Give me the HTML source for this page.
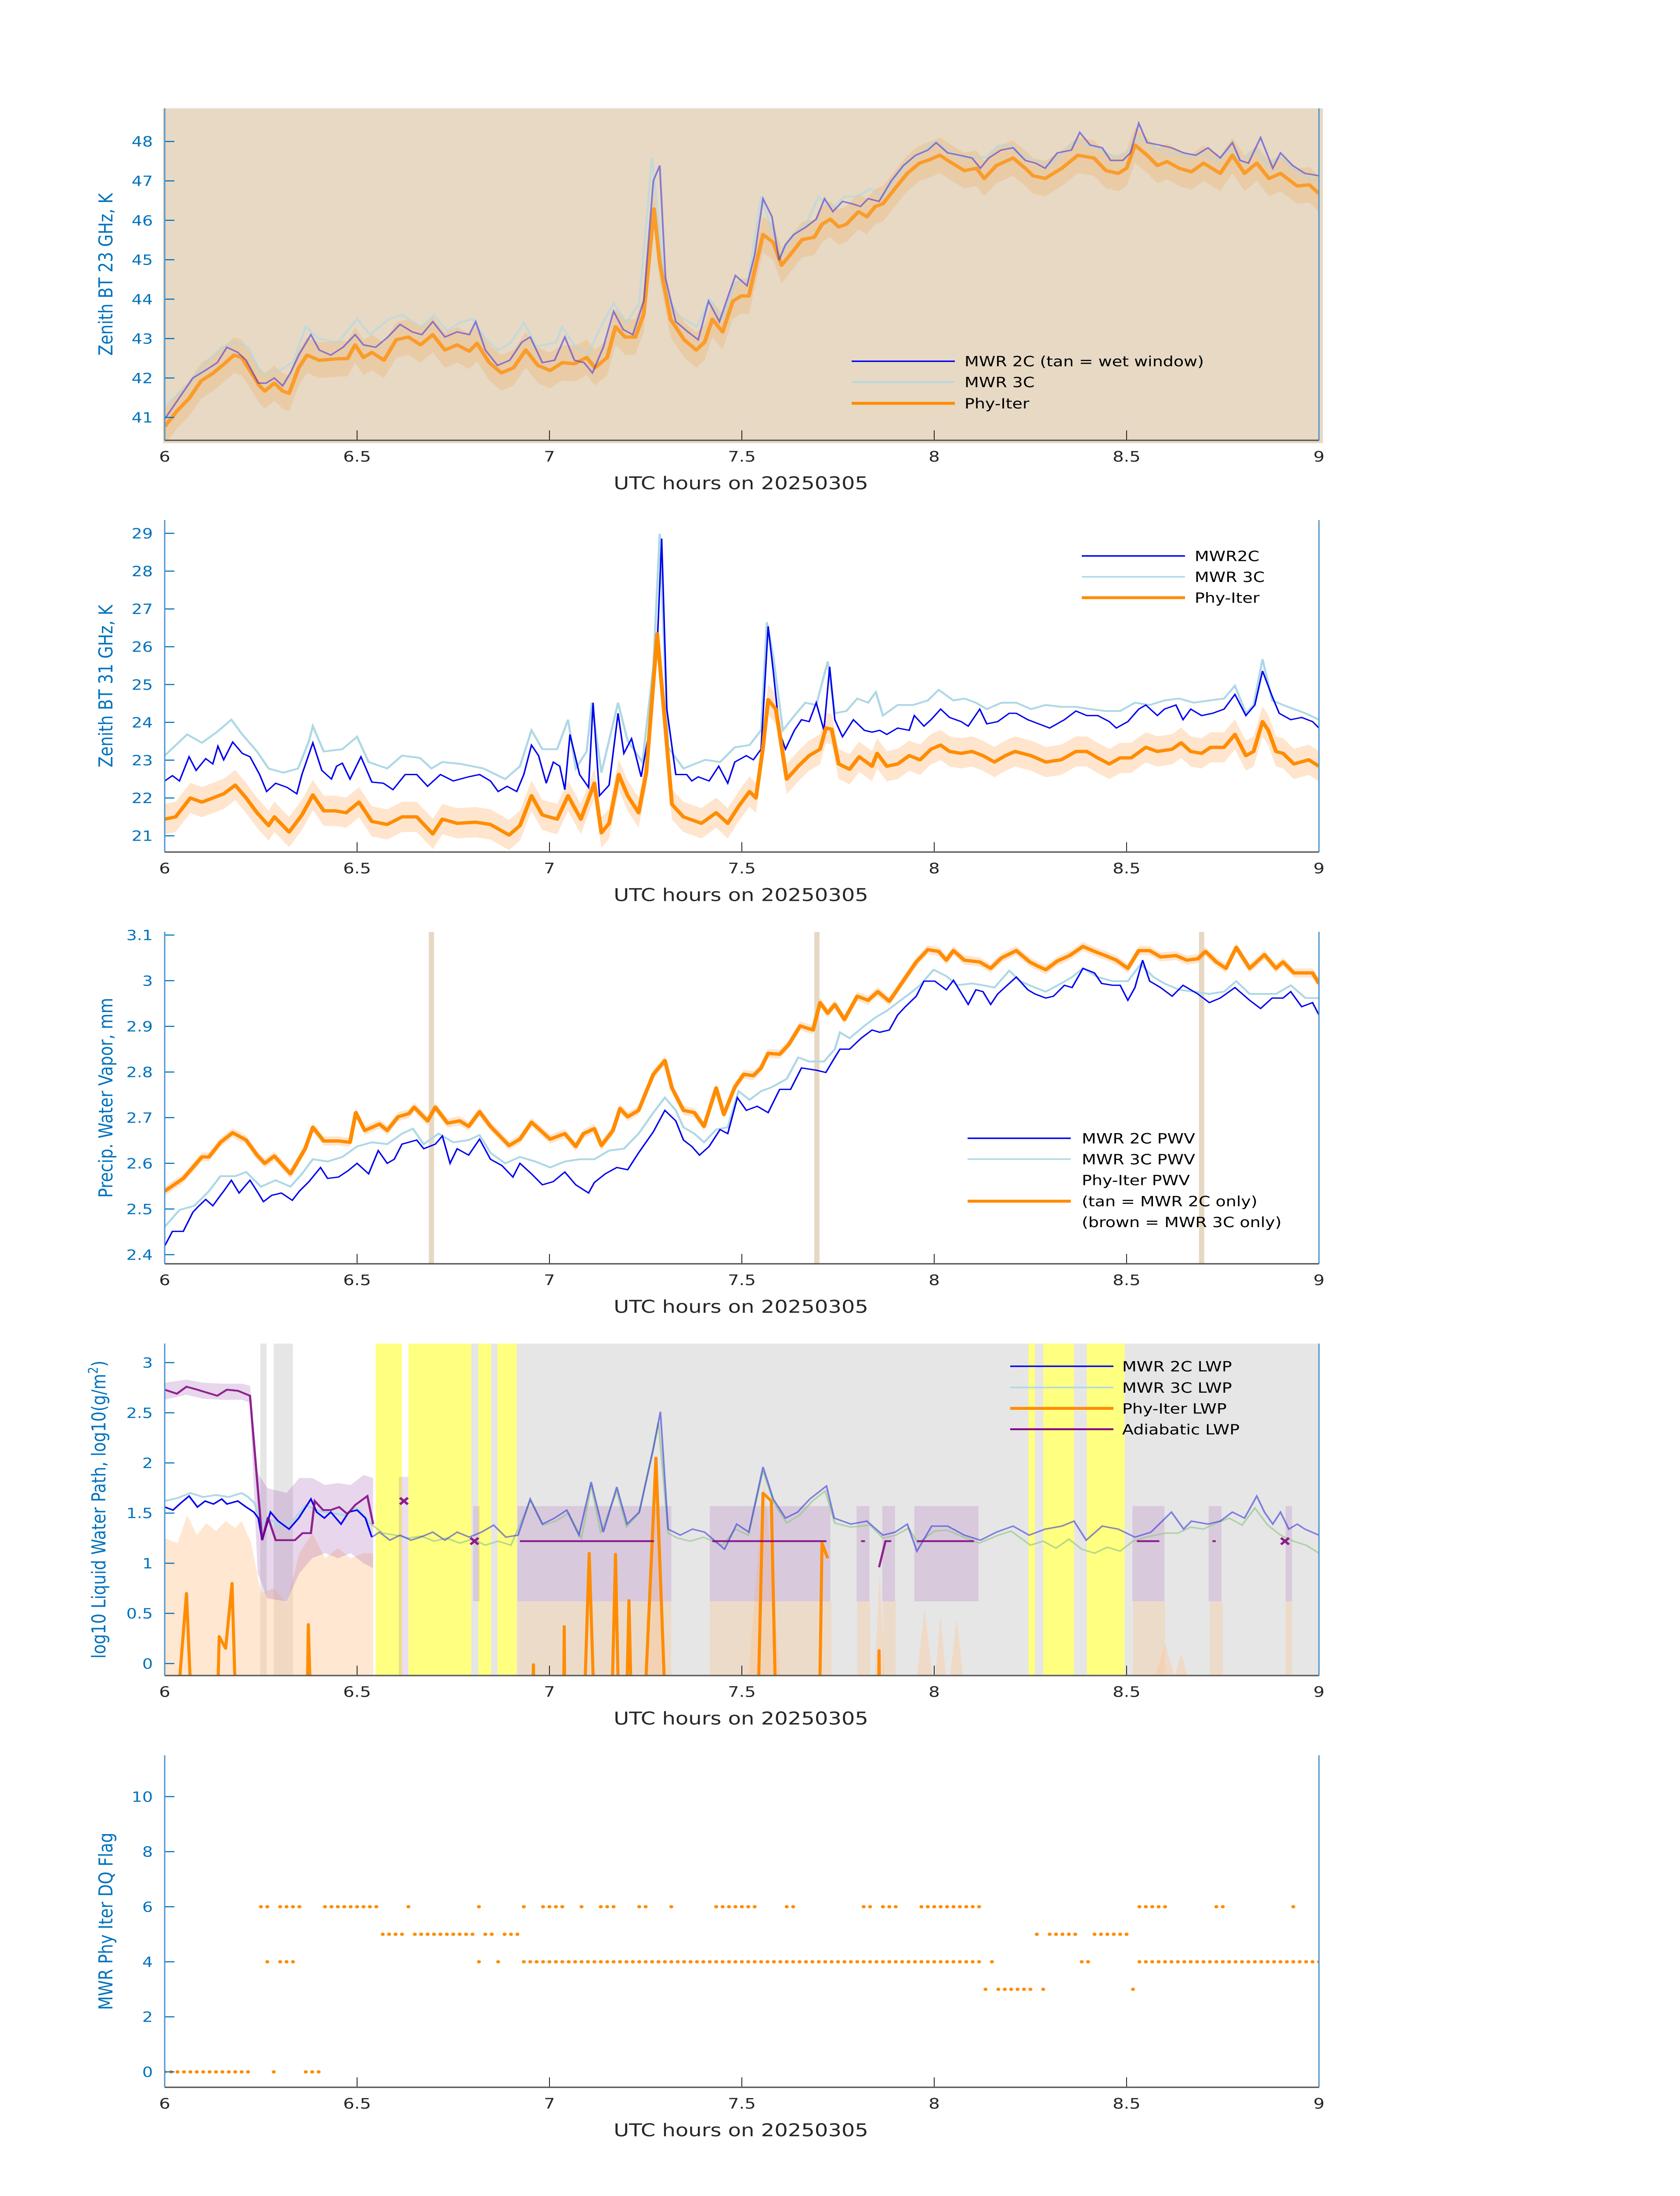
<!DOCTYPE html>
<html><head><meta charset="utf-8"><title>MWR retrievals 20250305</title>
<style>
html,body{margin:0;padding:0;background:#fff;width:100%;height:100%;overflow:hidden;}
svg{display:block;position:absolute;left:0;top:0;width:100vw;height:100vh;font-family:"DejaVu Sans","Liberation Sans",sans-serif;}
</style></head>
<body>
<svg id="chart" xmlns="http://www.w3.org/2000/svg" width="100%" height="100%" viewBox="0 0 3825 6000" preserveAspectRatio="none">
<rect x="0" y="0" width="3825" height="6000" fill="#ffffff"/>
</svg>
<script>
// ---------------- data (time in minutes after 06 UTC, values in axis units) ----------------
const xTickHours = [6, 6.5, 7, 7.5, 8, 8.5, 9];
const xTickLabels = ['6', '6.5', '7', '7.5', '8', '8.5', '9'];
const p1Ticks = [41, 42, 43, 44, 45, 46, 47, 48];
const p2Ticks = [21, 22, 23, 24, 25, 26, 27, 28, 29];
const p3Ticks = [2.4, 2.5, 2.6, 2.7, 2.8, 2.9, 3.0, 3.1];
const p3TickLabels = ['2.4', '2.5', '2.6', '2.7', '2.8', '2.9', '3', '3.1'];
const p4Ticks = [0, 0.5, 1, 1.5, 2, 2.5, 3];
const p4TickLabels = ['0', '0.5', '1', '1.5', '2', '2.5', '3'];
const p5Ticks = [0, 2, 4, 6, 8, 10];

// Panel 1: 23 GHz BT
const p1Phy = [[0,40.77],[1.9,41.16],[3.8,41.48],[5.7,41.93],[7.6,42.13],[9.5,42.39],[10.8,42.58],[12,42.52],[13.3,42.19],[14.8,41.8],[15.6,41.67],[17.1,41.87],[18.4,41.67],[19.4,41.61],[20.9,42.26],[22.2,42.58],[24.1,42.45],[27.2,42.49],[28.5,42.49],[29.7,42.84],[31,42.52],[32.3,42.65],[34.2,42.45],[36.1,42.97],[38,43.04],[39.9,42.84],[41.8,43.1],[43.7,42.71],[45.6,42.84],[47.5,42.68],[48.7,42.88],[50.6,42.39],[52.5,42.13],[54.4,42.26],[56.3,42.71],[58.2,42.32],[60.1,42.19],[62,42.39],[63.9,42.36],[65.8,42.52],[67.1,42.26],[69,42.52],[70.3,43.3],[71.8,43.04],[73.4,43.04],[74.7,43.62],[76.3,46.29],[77.2,44.92],[78.9,43.49],[81,42.97],[82.9,42.71],[84.2,42.91],[85.4,43.49],[87,43.17],[88.6,43.95],[89.9,44.08],[91.1,44.08],[92,44.73],[93.3,45.64],[94.9,45.44],[96.2,44.86],[97.8,45.18],[99.4,45.51],[101.3,45.57],[102.5,45.9],[103.8,46.03],[105.1,45.83],[106.3,45.9],[108.2,46.22],[109.5,46.09],[110.8,46.35],[112,46.42],[113.9,46.81],[115.8,47.19],[117.7,47.45],[119,47.52],[120.9,47.65],[122.1,47.52],[123.4,47.39],[124.7,47.26],[126.6,47.32],[127.8,47.06],[129.7,47.39],[132.3,47.58],[134.2,47.32],[135.4,47.13],[137.3,47.06],[139.9,47.32],[142.4,47.65],[144.9,47.58],[146.8,47.26],[148.7,47.19],[150,47.32],[151.3,47.91],[153.2,47.65],[154.8,47.39],[156.3,47.49],[158.2,47.32],[160.1,47.23],[162,47.45],[164.6,47.19],[166.5,47.65],[168.4,47.19],[170.3,47.45],[172.2,47.06],[174,47.19],[176.6,46.87],[178.5,46.9],[180,46.68]];
const p1Mwr2c = [[0,40.96],[1.9,41.41],[4.4,42],[6.3,42.19],[8.2,42.39],[9.7,42.78],[11.4,42.65],[12.7,42.45],[14.6,41.87],[15.8,41.87],[17.1,42],[18.4,41.8],[19.6,42.13],[20.9,42.58],[22.8,43.1],[24.1,42.71],[25.9,42.58],[27.8,42.78],[29.7,43.1],[31,42.84],[32.9,42.78],[34.8,43.04],[36.7,43.36],[38.6,43.17],[40.1,43.1],[41.8,43.43],[43.7,43.04],[45.6,43.17],[47.5,43.1],[48.5,43.43],[50,42.71],[51.9,42.32],[53.8,42.45],[55.7,42.91],[57,43.04],[58.9,42.39],[60.8,42.45],[62.4,43.04],[63.9,42.45],[65.4,42.39],[66.7,42.13],[68.4,42.78],[70,43.69],[71.5,43.23],[73,43.1],[74.7,43.95],[76.2,47],[77.2,47.39],[78.1,44.53],[79.7,43.43],[81.6,43.17],[83.2,42.97],[84.8,43.95],[86.5,43.43],[88,44.14],[89,44.6],[90.8,44.34],[92,45.12],[93.3,46.55],[94.7,46.09],[95.8,44.99],[96.8,45.38],[98.1,45.64],[100,45.83],[101.6,46.03],[102.9,46.55],[104.2,46.22],[105.7,46.48],[107.2,46.42],[108.5,46.35],[109.7,46.55],[111.4,46.48],[113.3,47],[115.2,47.39],[117.1,47.65],[119,47.78],[120.3,47.97],[122.1,47.71],[124,47.65],[125.9,47.58],[127.2,47.32],[128.5,47.58],[130.4,47.78],[132.3,47.84],[134.2,47.52],[135.8,47.45],[137.3,47.32],[139.2,47.71],[141.4,47.78],[142.7,48.23],[144.3,47.91],[146.2,47.84],[147.5,47.52],[149.4,47.52],[150.6,47.71],[151.9,48.46],[153.2,47.97],[155.1,47.91],[157,47.84],[158.9,47.71],[160.8,47.65],[162.7,47.84],[164.6,47.58],[166.5,47.97],[167.7,47.52],[169,47.45],[170.9,48.1],[172.8,47.32],[174,47.71],[175.9,47.39],[177.8,47.19],[180,47.13]];
const p1Mwr3c = [[0,41.3],[3,41.7],[6,42.3],[9,42.8],[11,42.9],[13,42.8],[15,42.1],[18,42.2],[20,42.4],[22,43.3],[24,43],[27,42.9],[30,43.5],[32,43.1],[35,43.5],[37,43.6],[40,43.3],[42,43.6],[44,43.2],[46,43.4],[48,43.5],[50,43],[52,42.7],[54,42.9],[56,43.4],[58,42.8],[61,42.9],[62,43.3],[64,42.8],[66,42.6],[68,43.3],[70,43.9],[72,43.4],[74,43.9],[76,47.6],[77,46],[78,44.2],[80,43.6],[83,43.3],[85,44],[87,43.5],[89,44.4],[91,44.5],[93,46.6],[94,46.1],[96,45.1],[98,45.6],[100,45.9],[102,46.6],[104,46.3],[106,46.6],[108,46.6],[110,46.8],[112,46.6],[114,47.1],[116,47.5],[118,47.7],[120,48],[122,47.8],[124,47.6],[126,47.6],[128,47.6],[130,47.9],[132,47.9],[134,47.6],[136,47.5],[138,47.4],[140,47.7],[142,48],[144,47.9],[146,47.8],[148,47.6],[150,47.7],[152,48.1],[154,47.9],[156,47.7],[158,47.7],[160,47.6],[162,47.7],[164,47.5],[166,47.8],[168,47.5],[170,47.8],[172,47.4],[174,47.6],[176,47.3],[178,47.1],[180,47]];
const p1Sigma = 0.45;

// Panel 2: 31 GHz BT
const p2Mwr2c = [[0,22.45],[1.2,22.59],[2.3,22.45],[3.8,23.09],[4.9,22.73],[6.4,23.04],[7.5,22.9],[8.3,23.37],[9.2,23.01],[10.6,23.48],[12.1,23.18],[13.3,23.09],[14.8,22.62],[15.9,22.17],[17.3,22.39],[19.1,22.28],[20.6,22.11],[21.4,22.62],[23.1,23.46],[24.5,22.73],[26,22.5],[26.8,22.84],[27.7,22.92],[28.9,22.5],[30.6,23.09],[32.3,22.42],[34.1,22.39],[35.6,22.22],[37.5,22.62],[39.3,22.62],[41,22.31],[43,22.62],[45,22.45],[47.4,22.56],[49.1,22.62],[50.8,22.45],[52,22.17],[53.4,22.31],[54.9,22.17],[56,22.62],[57.2,23.4],[58.3,23.12],[59.5,22.39],[60.6,22.95],[61.6,22.84],[62.4,22.22],[63.2,23.68],[64.7,22.62],[66.1,22.28],[66.8,24.52],[67.8,22.06],[69.3,22.34],[70.7,24.24],[71.6,23.18],[72.8,23.57],[74.3,22.56],[75.7,23.9],[76.8,26.03],[77.5,28.86],[78.3,24.35],[79.7,22.62],[81.4,22.62],[82.2,22.45],[83.2,22.56],[84.9,22.45],[86.4,22.84],[87.8,22.39],[88.9,22.95],[90.7,23.12],[91.8,23.01],[93,23.29],[94.1,26.54],[94.9,25.36],[95.9,23.74],[96.8,23.29],[98.2,23.79],[99.3,24.07],[100.5,24.02],[101.6,24.52],[102.8,23.79],[103.7,25.47],[104.5,24.07],[105.7,23.62],[107.4,24.07],[109.1,23.79],[110.3,23.74],[111.5,23.79],[112.6,23.68],[114.3,23.85],[116.1,23.79],[116.9,24.18],[118.4,23.9],[119.5,24.07],[121,24.35],[122.4,24.13],[124.2,24.02],[125.3,23.9],[127.1,24.35],[128.2,23.96],[129.9,24.02],[131.7,24.24],[132.8,24.24],[134.6,24.07],[136.3,23.96],[138,23.85],[140.3,24.07],[142.1,24.3],[143.8,24.18],[145.5,24.18],[147.3,24.02],[148.4,23.85],[150.2,24.02],[151.9,24.35],[153,24.46],[154.8,24.18],[155.9,24.35],[157.7,24.46],[158.8,24.07],[160,24.35],[161.7,24.18],[163.4,24.24],[165.2,24.35],[166.9,24.74],[168.6,24.18],[170,24.46],[171.2,25.36],[172.7,24.69],[173.8,24.24],[175.6,24.07],[177.3,24.13],[179,24.02],[180,23.85]];
const p2Mwr3c = [[0,23.12],[3.5,23.68],[5.8,23.46],[8.1,23.74],[10.4,24.07],[12.1,23.68],[14.4,23.23],[16.2,22.78],[18.5,22.67],[20.8,22.78],[22.5,23.51],[23.1,23.9],[24.8,23.23],[27.7,23.29],[30,23.62],[31.8,22.95],[34.7,22.78],[37,23.12],[39.8,23.06],[41.6,22.78],[43.3,22.95],[46.2,22.9],[49.7,22.78],[53.1,22.5],[55.4,22.84],[57.2,23.79],[58.9,23.29],[61.2,23.29],[62.9,24.07],[64.1,22.78],[65.8,23.23],[66.6,24.52],[68.1,22.67],[70.7,24.52],[72.2,23.51],[74.5,22.95],[76.2,25.47],[77.2,28.99],[78.5,23.34],[80.9,22.78],[84.3,23.01],[86.6,22.95],[88.9,23.34],[91.2,23.4],[93,23.79],[93.9,26.65],[94.9,25.75],[96.4,23.79],[98.2,24.18],[99.9,24.52],[101.6,24.46],[103.4,25.61],[104.5,24.24],[106.3,24.3],[108,24.63],[109.7,24.52],[110.9,24.8],[112,24.18],[114.3,24.46],[116.7,24.46],[119,24.58],[120.7,24.86],[123,24.58],[124.7,24.63],[126.5,24.52],[128.2,24.35],[130.5,24.52],[132.8,24.52],[135.1,24.35],[137.4,24.46],[139.8,24.41],[142.1,24.41],[144.4,24.35],[146.7,24.3],[149,24.3],[151.3,24.52],[153.6,24.46],[155.9,24.58],[158.2,24.63],[160.5,24.52],[162.9,24.58],[165.2,24.63],[166.9,24.97],[168.6,24.24],[169.8,24.46],[171.2,25.67],[172.7,24.58],[174.4,24.46],[176.1,24.35],[177.9,24.24],[180,24.07]];
const p2Phy = [[0,21.44],[1.7,21.5],[4,22],[5.8,21.89],[7.5,22],[9.2,22.11],[11,22.34],[12.7,22],[14.4,21.61],[16.2,21.27],[17.1,21.5],[19.4,21.1],[21.4,21.55],[23.1,22.08],[24.8,21.66],[26.6,21.66],[28.3,21.61],[30.3,21.89],[32.3,21.38],[34.7,21.3],[37,21.5],[39.3,21.5],[41.8,21.05],[43.3,21.44],[45.6,21.33],[48.5,21.36],[50.8,21.3],[53.7,21.02],[55.4,21.27],[57.2,22.06],[58.9,21.55],[61.2,21.44],[62.9,22.06],[64.9,21.44],[67,22.39],[68.1,21.08],[69.3,21.33],[70.8,22.62],[72.2,22.06],[73.9,21.61],[75.1,22.67],[76.8,26.34],[78,24.02],[79.1,21.83],[80.9,21.5],[83.7,21.33],[86,21.61],[87.8,21.33],[89.5,21.78],[91.2,22.17],[92.2,22],[93.3,23.34],[94.1,24.6],[95.3,24.35],[97,22.5],[98.8,22.84],[100.5,23.12],[102.2,23.29],[103.1,23.85],[104,23.82],[105.1,22.9],[106.8,22.76],[108.3,23.09],[110.3,22.84],[111.1,23.18],[112.6,22.84],[114.3,22.9],[116.1,23.12],[117.8,23.01],[119.5,23.29],[121,23.4],[122.4,23.23],[124.2,23.18],[125.9,23.23],[127.6,23.12],[129.4,22.95],[131.1,23.12],[132.6,23.23],[135.1,23.12],[137.4,22.95],[139.8,23.01],[142.1,23.23],[143.8,23.23],[145.5,23.06],[147.3,22.9],[149,23.06],[150.7,23.06],[153,23.34],[154.8,23.23],[157.1,23.29],[158.5,23.46],[160,23.23],[161.7,23.18],[163.1,23.34],[165.2,23.34],[166.9,23.68],[168.6,23.12],[169.8,23.23],[171.2,24.02],[172.1,23.79],[173.3,23.23],[174.4,23.18],[176.1,22.9],[178.4,23.01],[180,22.84]];
const p2Sigma = 0.4;

// Panel 3: PWV
const p3Phy = [[0,2.539],[2.9,2.567],[5.8,2.614],[6.9,2.614],[8.7,2.646],[10.6,2.667],[12.7,2.651],[14.4,2.618],[15.6,2.6],[17.1,2.616],[19.6,2.577],[21.9,2.632],[23.1,2.679],[24.8,2.649],[27.1,2.649],[28.9,2.646],[29.8,2.711],[31.2,2.672],[33.5,2.686],[34.7,2.672],[36.4,2.702],[38.1,2.709],[38.9,2.723],[41,2.693],[42.2,2.723],[44.1,2.688],[46,2.693],[47.4,2.681],[49.1,2.713],[50.8,2.681],[53.7,2.639],[55.4,2.653],[57.2,2.69],[60.1,2.653],[62.4,2.665],[64.1,2.637],[65.3,2.665],[67,2.676],[68.1,2.639],[69.9,2.672],[71,2.72],[72.2,2.702],[73.9,2.716],[76.2,2.795],[78,2.825],[79.1,2.765],[80.9,2.716],[82.6,2.711],[84.1,2.681],[86,2.765],[87.2,2.707],[88.9,2.767],[90.3,2.795],[91.8,2.792],[93,2.809],[94.1,2.841],[95.9,2.839],[97.3,2.86],[99.1,2.901],[101.1,2.892],[102.2,2.952],[103.4,2.929],[104.5,2.948],[106,2.915],[108,2.966],[109.7,2.957],[111.2,2.976],[113,2.955],[114.9,2.994],[117.2,3.041],[119,3.068],[120.7,3.064],[121.9,3.045],[123,3.066],[124.7,3.045],[127.1,3.041],[128.8,3.027],[130.5,3.05],[132.8,3.066],[134.9,3.041],[136.3,3.031],[137.4,3.024],[139.2,3.043],[141.1,3.055],[143.2,3.075],[145,3.064],[146.7,3.055],[148.4,3.045],[150.2,3.027],[151.9,3.066],[153.6,3.066],[155.3,3.052],[157.7,3.055],[159.4,3.045],[161.1,3.048],[162.3,3.064],[164,3.041],[165.5,3.027],[167.1,3.073],[169.2,3.027],[171.5,3.057],[173.3,3.027],[174.4,3.041],[176.1,3.017],[179,3.017],[180,2.994]];
const p3Mwr2c = [[0,2.419],[1.2,2.451],[2.9,2.451],[4.4,2.493],[5.2,2.505],[6.4,2.521],[7.5,2.507],[8.7,2.53],[9.2,2.539],[10.4,2.563],[11.6,2.535],[13.3,2.563],[14.4,2.539],[15.4,2.516],[16.7,2.53],[18.2,2.535],[19.9,2.519],[21,2.539],[22.5,2.56],[24.3,2.591],[25.4,2.567],[27.1,2.57],[28.6,2.584],[30,2.6],[31.8,2.577],[33.3,2.628],[34.7,2.6],[35.8,2.609],[37,2.642],[39.3,2.651],[40.4,2.632],[42.2,2.642],[43.3,2.66],[44.5,2.6],[45.6,2.632],[47.4,2.618],[49.1,2.653],[50.8,2.609],[52.6,2.595],[54.3,2.57],[55.4,2.6],[57.2,2.577],[58.9,2.553],[60.6,2.56],[62.4,2.581],[64.1,2.553],[66.1,2.535],[67,2.558],[68.7,2.577],[70.5,2.591],[72.2,2.586],[73.9,2.623],[76.2,2.669],[78,2.716],[79.7,2.693],[80.9,2.651],[82.2,2.637],[83.4,2.618],[84.9,2.637],[86.6,2.674],[87.8,2.665],[89.3,2.744],[90.7,2.716],[92.4,2.725],[94.1,2.711],[95.9,2.762],[97.6,2.762],[99.3,2.809],[101.6,2.804],[103.1,2.799],[104.5,2.832],[105.3,2.85],[106.8,2.85],[108.6,2.874],[110.3,2.892],[111.5,2.887],[113,2.892],[114.3,2.925],[115.5,2.943],[117.2,2.966],[118.4,2.999],[120.1,2.999],[121.9,2.98],[123,3.001],[125.3,2.948],[126.5,2.98],[127.6,2.976],[128.8,2.948],[129.9,2.971],[131.7,2.994],[132.8,3.008],[134.6,2.98],[135.7,2.971],[137.4,2.962],[138.6,2.966],[140.3,2.99],[141.5,2.985],[143.2,3.027],[145,3.017],[146.1,2.994],[147.8,2.99],[149,2.99],[150.2,2.957],[151.3,2.985],[152.5,3.045],[153.6,2.999],[155.3,2.985],[157.1,2.966],[158.8,2.99],[161.1,2.971],[162.9,2.952],[164.6,2.962],[166.9,2.985],[169.2,2.957],[170.9,2.939],[172.7,2.962],[174.4,2.962],[175.6,2.976],[177.3,2.943],[179,2.952],[180,2.925]];
const p3Mwr3c = [[0,2.461],[2.3,2.498],[4.6,2.507],[6.9,2.539],[8.7,2.572],[11,2.572],[12.7,2.581],[15,2.549],[17.3,2.563],[19.6,2.549],[21.4,2.577],[23.1,2.609],[25.4,2.604],[27.7,2.614],[30,2.637],[32.3,2.646],[34.7,2.642],[37,2.665],[38.7,2.676],[40.4,2.642],[42.7,2.665],[45,2.646],[47.4,2.651],[49.1,2.662],[50.8,2.623],[53.1,2.6],[55.4,2.614],[57.8,2.604],[60.1,2.591],[62.4,2.604],[64.7,2.609],[67,2.609],[69.3,2.628],[71.6,2.632],[73.9,2.665],[76.2,2.711],[78,2.744],[79.7,2.716],[80.9,2.679],[82.6,2.665],[84.1,2.646],[86,2.674],[87.8,2.679],[89.5,2.758],[91.2,2.739],[93,2.758],[94.7,2.767],[97,2.785],[98.8,2.832],[100.5,2.823],[102.8,2.823],[104.5,2.85],[105.3,2.887],[106.8,2.874],[109.1,2.901],[110.9,2.92],[112.6,2.934],[114.3,2.952],[116.1,2.971],[117.8,2.99],[119.9,3.024],[121.9,3.01],[123.6,2.99],[125.9,2.994],[127.6,2.99],[129.4,2.985],[131.7,3.022],[133.4,2.999],[135.7,2.985],[137.4,2.976],[139.8,2.994],[141.5,3.008],[143.2,3.027],[145.5,3.008],[147.8,2.999],[150.2,2.999],[152.2,3.036],[154.2,3.008],[155.9,2.994],[158.2,2.98],[160.5,2.976],[162.9,2.971],[165.2,2.976],[167.1,2.999],[169.2,2.971],[170.9,2.971],[173.3,2.971],[175.6,2.99],[177.9,2.962],[180,2.962]];
const p3Sigma = 0.01;
const p3OnlyBars = [41.6, 101.7, 161.7];

// Panel 4: LWP (log10)
const p4Mwr2c = [[0,1.56],[1.3,1.53],[2.5,1.6],[3.8,1.67],[5.1,1.56],[6.3,1.62],[7.6,1.59],[8.9,1.64],[9.7,1.59],[11.4,1.62],[12.7,1.56],[13.9,1.51],[14.6,1.45],[15.2,1.23],[16.5,1.51],[17.7,1.42],[19.4,1.34],[20.9,1.45],[22.8,1.64],[23.7,1.51],[24.9,1.45],[25.9,1.51],[27.5,1.39],[28.7,1.51],[30,1.53],[31.3,1.45],[32.3,1.26],[33.5,1.31],[35.1,1.23],[36.7,1.28],[38.4,1.23],[39.9,1.26],[41.8,1.31],[43.7,1.23],[45.6,1.31],[47.5,1.26],[49.4,1.31],[51.3,1.38],[53.2,1.26],[55.1,1.28],[57,1.64],[58.9,1.39],[60.8,1.45],[62.7,1.53],[64.6,1.28],[66.5,1.81],[68.4,1.31],[70.5,1.76],[72.1,1.39],[74,1.51],[76.2,2.14],[77.3,2.51],[78.5,1.34],[80.4,1.28],[82.3,1.34],[84.2,1.31],[87.3,1.14],[89.2,1.39],[91.1,1.31],[93.3,1.96],[94.9,1.64],[96.8,1.45],[98.7,1.51],[100.6,1.64],[103.2,1.77],[104.4,1.45],[107,1.39],[109.5,1.42],[112,1.28],[113.9,1.31],[115.8,1.39],[117.3,1.12],[119.6,1.37],[122.1,1.37],[124.7,1.28],[127.2,1.23],[129.7,1.31],[132.3,1.37],[134.8,1.28],[137.3,1.34],[139.9,1.37],[141.8,1.42],[143.7,1.23],[146.2,1.37],[148.7,1.34],[151.3,1.26],[153.8,1.31],[157,1.51],[158.9,1.34],[160.1,1.42],[162.7,1.39],[164.6,1.42],[166.5,1.51],[168.4,1.45],[170.3,1.67],[171.5,1.51],[172.8,1.39],[174,1.51],[175.3,1.34],[176.6,1.39],[177.8,1.34],[180,1.28]];
const p4Mwr3c = [[0,1.62],[2,1.65],[4,1.7],[6,1.66],[8,1.68],[10,1.66],[12,1.7],[13,1.66],[14,1.6],[15,1.4],[16,1.45],[18,1.38],[20,1.42],[22,1.58],[24,1.52],[26,1.5],[28,1.48],[30,1.55],[32,1.4],[34,1.3],[36,1.28],[38,1.25],[40,1.27],[42,1.22],[44,1.25],[46,1.2],[48,1.24],[50,1.18],[52,1.22],[54,1.18],[57,1.62],[59,1.38],[61,1.42],[63,1.5],[65,1.25],[66.5,1.78],[68,1.3],[70.5,1.72],[72,1.36],[74,1.5],[76,2.1],[77,2.4],[78.5,1.3],[80,1.25],[82,1.22],[84,1.26],[87,1.18],[89,1.34],[91,1.28],[93.3,1.92],[95,1.6],[97,1.4],[99,1.48],[101,1.62],[103,1.72],[104.5,1.4],[107,1.36],[110,1.38],[112,1.25],[114,1.28],[116,1.35],[117.5,1.2],[120,1.32],[122,1.33],[125,1.25],[127,1.2],[130,1.28],[132,1.32],[135,1.18],[137,1.22],[139,1.15],[141,1.24],[143,1.14],[145,1.1],[147,1.16],[149,1.12],[151,1.22],[153,1.26],[156,1.3],[158,1.3],[160,1.36],[162,1.34],[164,1.4],[166,1.45],[168,1.38],[170,1.55],[172,1.38],[174,1.28],[176,1.22],[178,1.18],[180,1.1]];
const p4Phy = [[1.9,-0.5],[3.4,0.7],[4.2,-0.5],[null,null],[8.2,-0.5],[8.5,0.27],[9.5,0.15],[10.5,0.8],[11.1,-0.5],[null,null],[22.2,-0.5],[22.4,0.39],[22.8,-0.5],[null,null],[57.3,-0.5],[57.5,-0.01],[57.6,-0.5],[null,null],[62.2,-0.5],[62.3,0.37],[62.4,-0.5],[null,null],[65.4,-0.5],[66.2,1.1],[67,-0.5],[null,null],[69.7,-0.5],[70.3,1.09],[70.8,-0.5],[null,null],[72,-0.5],[72.4,0.63],[72.8,-0.5],[null,null],[74.8,-0.5],[76.6,2.05],[78.1,-0.5],[null,null],[92.5,-0.5],[93.3,1.7],[94.6,1.62],[95.3,-0.5],[null,null],[102.1,-0.5],[102.5,1.2],[103.4,1.05],[null,null],[111.3,-0.5],[111.4,0.13],[111.5,-0.5]];
const p4Adiabatic = [[0,2.73],[1.9,2.69],[3.4,2.76],[5.1,2.73],[8.2,2.67],[9.7,2.73],[11.4,2.72],[13.3,2.67],[15.2,1.23],[16.1,1.46],[17.3,1.23],[20.3,1.23],[21.5,1.3],[22.8,1.3],[23.4,1.62],[24.7,1.53],[25.9,1.53],[27.2,1.56],[28.5,1.49],[29.7,1.58],[31.6,1.67],[32.5,1.39],[null,null],[55.4,1.22],[76.3,1.22],[null,null],[85.4,1.22],[103.2,1.22],[null,null],[108.6,1.22],[109.2,1.22],[null,null],[111.4,0.96],[112.4,1.22],[113.3,1.22],[null,null],[117.3,1.22],[126.2,1.22],[null,null],[151.6,1.22],[155.1,1.22],[null,null],[163.4,1.22],[163.9,1.22]];
const p4AdiabaticMarkers = [[37.3,1.62],[48.3,1.22],[174.7,1.22]];
const p4GrayRanges = [[14.9,15.9],[17.0,20.0],[47.8,48.9],[50.9,51.9],[54.9,180]];
const p4YellowRanges = [[32.9,37.0],[38.0,47.8],[48.9,50.9],[51.9,54.9],[134.7,135.7],[137.0,141.8],[143.8,149.7]];
const p4AdiabaticEarlyBand = [[0,2.80,2.63],[3.4,2.83,2.68],[6,2.80,2.64],[9,2.79,2.63],[12,2.79,2.63],[13.3,2.77,2.60],[14.5,1.9,0.9],[16,1.75,0.65],[19,1.70,0.62],[21,1.85,0.9],[23,1.85,1.05],[25,1.78,1.1],[27,1.80,1.05],[29,1.78,1.1],[31,1.88,1.0],[32.5,1.85,0.95]];
const p4AdiabaticBoxes = [[36.5,38.0,1.86,-0.12],[48.1,49.1,1.57,0.62],[55.0,79.0,1.57,0.62],[85.0,103.8,1.57,0.62],[107.9,109.9,1.57,0.62],[111.9,113.9,1.57,0.62],[116.9,126.9,1.57,0.62],[150.9,155.9,1.57,0.62],[162.8,164.8,1.57,0.62],[174.8,175.8,1.57,0.62]];
const p4PhyBandEarly = [[0,1.25],[2,1.2],[3.5,1.48],[5,1.28],[6.5,1.4],[8,1.32],[9.5,1.42],[11,1.35],[12,1.42],[13.5,1.2],[15,0.7],[17,0.75],[19,0.6],[21,1.1],[23,1.3],[25,1.05],[27,1.15],[29,1.05],[31,1.1],[32.5,1.1]];
const p4PhyBoxes = [[55,79,0.62],[85,104,0.62],[108,110,0.62],[112,114,0.62],[151,156,0.62],[163,165,0.62],[174.8,175.8,0.62]];
const p4PhySpikes = [[76.5,2.05,1.5],[93.5,1.85,2.5],[111.5,0.9,0.8],[118.5,0.55,1.2],[121,0.48,0.8],[123.5,0.45,1],[156,0.2,1.5],[158.5,0.1,1]];

// Panel 5: DQ flag (minutes with each flag value)
const flag0Minutes = [0,1,2,3,4,5,6,7,8,9,10,11,12,13,17,22,23,24];
const flag3Minutes = [128,130,131,132,133,134,135,137,151];
const flag4Minutes = [16,18,19,20,49,52,56,57,58,59,60,61,62,63,64,65,66,67,68,69,70,71,72,73,74,75,76,77,78,79,80,81,82,83,84,85,86,87,88,89,90,91,92,93,94,95,96,97,98,99,100,101,102,103,104,105,106,107,108,109,110,111,112,113,114,115,116,117,118,119,120,121,122,123,124,125,126,127,129,143,144,152,153,154,155,156,157,158,159,160,161,162,163,164,165,166,167,168,169,170,171,172,173,174,175,176,177,178,179,180];
const flag5Minutes = [34,35,36,37,39,40,41,42,43,44,45,46,47,48,50,51,53,54,55,136,138,139,140,141,142,145,146,147,148,149,150];
const flag6Minutes = [15,16,18,19,20,21,25,26,27,28,29,30,31,32,33,38,49,56,59,60,61,62,65,68,69,70,74,75,79,86,87,88,89,90,91,92,97,98,109,110,112,113,114,118,119,120,121,122,123,124,125,126,127,152,153,154,155,156,164,165,176];

// ---------------- rendering ----------------
const NS = 'http://www.w3.org/2000/svg';
const svg = document.getElementById('chart');
const X0 = 375, X1 = 3003, TMAX = 180, PH = 907;
const tops = [296, 1421, 2546, 3671, 4796];
function xs(t) { return X0 + t / TMAX * (X1 - X0); }
function xh(h) { return xs((h - 6) * 60); }
function mk(tag, attrs, parent) {
  const e = document.createElementNS(NS, tag);
  for (const k in attrs) e.setAttribute(k, attrs[k]);
  (parent || svg).appendChild(e);
  return e;
}
function linePath(pts, ys) {
  let d = '', pen = false;
  for (const p of pts) {
    if (p[0] === null || p[1] === null) { pen = false; continue; }
    d += (pen ? 'L' : 'M') + xs(p[0]).toFixed(1) + ',' + ys(p[1]).toFixed(1);
    pen = true;
  }
  return d;
}
function bandPath(pts, ys, sig) {
  let d = '';
  pts.forEach((p, i) => { d += (i ? 'L' : 'M') + xs(p[0]).toFixed(1) + ',' + ys(p[1] + sig).toFixed(1); });
  for (let i = pts.length - 1; i >= 0; i--) d += 'L' + xs(pts[i][0]).toFixed(1) + ',' + ys(pts[i][1] - sig).toFixed(1);
  return d + 'Z';
}
function makeY(i, vmin, vmax) { const top = tops[i], bot = top + PH; return v => bot - (v - vmin) / (vmax - vmin) * PH; }

function axes(i, ys, ticks, tickLabels, ylabel, rightAxis) {
  const top = tops[i], bot = top + PH;
  const g = mk('g', {});
  
  
  xTickHours.forEach((h, k) => {
    const tk = mk('line', { x1: xh(h), x2: xh(h), y1: bot, y2: bot - 27, stroke: '#262626', 'stroke-width': 2 }, g);
    
    
    const tl = mk('text', { x: xh(h), y: bot + 58, 'font-size': 40, fill: '#262626', 'text-anchor': 'middle' }, g);
    tl.textContent = xTickLabels[k];
    
    
  });
  ticks.forEach((v, k) => {
    const tk = mk('line', { x1: X0, x2: X0 + 22, y1: ys(v), y2: ys(v), stroke: '#0072bd', 'stroke-width': 3 }, g);
    
    
    const tl = mk('text', { x: 348, y: ys(v) + 14, 'font-size': 38, fill: '#0072bd', 'text-anchor': 'end' }, g);
    tl.textContent = tickLabels[k];
    
    
  });
  const la = mk('line', { x1: X0, x2: X0, y1: top, y2: bot, stroke: '#4d95cc', 'stroke-width': 3 }, g);
  
  
  if (rightAxis) {
    const ra = mk('line', { x1: X1, x2: X1, y1: top, y2: bot, stroke: '#4d95cc', 'stroke-width': 3 }, g);
    
    
  }
  const ba = mk('line', { x1: X0, x2: X1, y1: bot, y2: bot, stroke: '#5a5a5a', 'stroke-width': 4 }, g);
  
  
  const xl = mk('text', { x: 1687, y: bot + 134, 'font-size': 48, fill: '#262626', 'text-anchor': 'middle' }, g);
  xl.textContent = 'UTC hours on 20250305';
  
  
  const cy = top + PH / 2;
  const yl = mk('text', { x: 0, y: 0, 'font-size': 44, fill: '#0072bd', 'text-anchor': 'middle', transform: 'translate(' + (i === 3 ? 240 : 256) + ',' + cy + ') rotate(-90)' }, g);
  
  
  if (Array.isArray(ylabel)) {
    const a = mk('tspan', {}, yl); a.textContent = ylabel[0];
    const b = mk('tspan', { 'baseline-shift': 'super', 'font-size': 30 }, yl); b.textContent = ylabel[1];
    const c = mk('tspan', {}, yl); c.textContent = ylabel[2];
  } else yl.textContent = ylabel;
}

function legend(entries, lx, tx, rows, name) {
  const g = mk('g', {});
  
  
  entries.forEach((e, k) => {
    if (e.color) {
      const l = mk('line', { x1: lx, x2: lx + 235, y1: rows[k], y2: rows[k], stroke: e.color, 'stroke-width': e.w }, g);
      
      
    }
    const t = mk('text', { x: tx, y: rows[k] + 14, 'font-size': 38, fill: '#000' }, g);
    t.textContent = e.label;
    
    
  });
}

const defs = mk('defs', {});
for (let i = 0; i < 5; i++) {
  const cp = mk('clipPath', { id: 'clip' + i }, defs);
  mk('rect', { x: X0, y: tops[i], width: X1 - X0, height: PH }, cp);
}

// ---- Panel 1 ----
{
  const ys = makeY(0, 40.42, 48.84);
  const bg = mk('rect', { x: 371, y: 296, width: 3012 - 371, height: 915, fill: '#e7d9c4' });
  
  
  const g = mk('g', { 'clip-path': 'url(#clip0)' });
  
  
  const band = mk('path', { d: bandPath(p1Phy, ys, p1Sigma), fill: 'rgba(240,170,90,0.28)', stroke: 'none' }, g);
  
  
  const l3 = mk('path', { d: linePath(p1Mwr3c, ys), fill: 'none', stroke: 'rgba(173,216,230,0.6)', 'stroke-width': 5 }, g);
  
  
  const lo = mk('path', { d: linePath(p1Phy, ys), fill: 'none', stroke: 'rgba(255,140,0,0.75)', 'stroke-width': 9, 'stroke-linejoin': 'round' }, g);
  
  
  const lb = mk('path', { d: linePath(p1Mwr2c, ys), fill: 'none', stroke: 'rgba(60,40,220,0.55)', 'stroke-width': 4 }, g);
  
  
  axes(0, ys, p1Ticks, p1Ticks.map(String), 'Zenith BT 23 GHz, K', true);
  legend([{ label: 'MWR 2C (tan = wet window)', color: '#0000ee', w: 4 }, { label: 'MWR 3C', color: '#add8e6', w: 4 }, { label: 'Phy-Iter', color: '#ff8c00', w: 8 }], 1939, 2196, [987, 1044, 1102], 'legend-23ghz');
}

// ---- Panel 2 ----
{
  const ys = makeY(1, 20.57, 29.35);
  const g = mk('g', { 'clip-path': 'url(#clip1)' });
  
  
  const band = mk('path', { d: bandPath(p2Phy, ys, p2Sigma), fill: 'rgba(255,170,90,0.3)', stroke: 'none' }, g);
  
  
  const l3 = mk('path', { d: linePath(p2Mwr3c, ys), fill: 'none', stroke: '#add8e6', 'stroke-width': 5 }, g);
  
  
  const lb = mk('path', { d: linePath(p2Mwr2c, ys), fill: 'none', stroke: '#0000ee', 'stroke-width': 3.5 }, g);
  
  
  const lo = mk('path', { d: linePath(p2Phy, ys), fill: 'none', stroke: '#ff8c00', 'stroke-width': 9, 'stroke-linejoin': 'round' }, g);
  
  
  axes(1, ys, p2Ticks, p2Ticks.map(String), 'Zenith BT 31 GHz, K', true);
  legend([{ label: 'MWR2C', color: '#0000ee', w: 4 }, { label: 'MWR 3C', color: '#add8e6', w: 4 }, { label: 'Phy-Iter', color: '#ff8c00', w: 8 }], 2463, 2720, [1519, 1576, 1633], 'legend-31ghz');
}

// ---- Panel 3 ----
{
  const ys = makeY(2, 2.38, 3.107);
  const g = mk('g', { 'clip-path': 'url(#clip2)' });
  
  
  p3OnlyBars.forEach(t => {
    const r = mk('rect', { x: xs(t) - 6, y: tops[2], width: 12, height: PH, fill: '#e6d8c3' }, g);
    
    
  });
  const band = mk('path', { d: bandPath(p3Phy, ys, p3Sigma), fill: 'rgba(255,170,90,0.3)', stroke: 'none' }, g);
  
  
  const l3 = mk('path', { d: linePath(p3Mwr3c, ys), fill: 'none', stroke: '#add8e6', 'stroke-width': 5 }, g);
  
  
  const lb = mk('path', { d: linePath(p3Mwr2c, ys), fill: 'none', stroke: '#0000ee', 'stroke-width': 3.5 }, g);
  
  
  const lo = mk('path', { d: linePath(p3Phy, ys), fill: 'none', stroke: '#ff8c00', 'stroke-width': 9, 'stroke-linejoin': 'round' }, g);
  
  
  axes(2, ys, p3Ticks, p3TickLabels, 'Precip. Water Vapor, mm', true);
  legend([{ label: 'MWR 2C PWV', color: '#0000ee', w: 4 }, { label: 'MWR 3C PWV', color: '#add8e6', w: 4 }, { label: 'Phy-Iter PWV' }, { label: '(tan = MWR 2C only)', color: '#ff8c00', w: 8 }, { label: '(brown = MWR 3C only)' }], 2203, 2463, [3110, 3167, 3224, 3282, 3339], 'legend-pwv');
}

// ---- Panel 4 ----
{
  const ys = makeY(3, -0.12, 3.19);
  const top = tops[3];
  const g = mk('g', { 'clip-path': 'url(#clip3)' });
  
  
  p4GrayRanges.forEach(r => {
    const e = mk('rect', { x: xs(r[0]), y: top, width: xs(r[1]) - xs(r[0]), height: PH, fill: '#e6e6e6' }, g);
    
    
  });
  p4YellowRanges.forEach(r => {
    const e = mk('rect', { x: xs(r[0]), y: top, width: xs(r[1]) - xs(r[0]), height: PH, fill: '#ffff80' }, g);
    
    
  });
  {
    let d = 'M' + xs(p4PhyBandEarly[0][0]) + ',' + ys(-0.12);
    p4PhyBandEarly.forEach(p => { d += 'L' + xs(p[0]).toFixed(1) + ',' + ys(p[1]).toFixed(1); });
    d += 'L' + xs(p4PhyBandEarly[p4PhyBandEarly.length - 1][0]) + ',' + ys(-0.12) + 'Z';
    const e = mk('path', { d: d, fill: 'rgba(255,195,140,0.4)' }, g);
    
    
  }
  p4PhyBoxes.forEach(b => {
    const e = mk('rect', { x: xs(b[0]), y: ys(b[2]), width: xs(b[1]) - xs(b[0]), height: ys(-0.12) - ys(b[2]), fill: 'rgba(255,195,140,0.3)' }, g);
    
    
  });
  p4PhySpikes.forEach(s => {
    const d = 'M' + xs(s[0] - s[2]) + ',' + ys(-0.12) + 'L' + xs(s[0]) + ',' + ys(s[1]) + 'L' + xs(s[0] + s[2]) + ',' + ys(-0.12) + 'Z';
    const e = mk('path', { d: d, fill: 'rgba(255,195,140,0.35)' }, g);
    
    
  });
  {
    let d = '';
    p4AdiabaticEarlyBand.forEach((p, k) => { d += (k ? 'L' : 'M') + xs(p[0]).toFixed(1) + ',' + ys(p[1]).toFixed(1); });
    for (let k = p4AdiabaticEarlyBand.length - 1; k >= 0; k--) d += 'L' + xs(p4AdiabaticEarlyBand[k][0]).toFixed(1) + ',' + ys(p4AdiabaticEarlyBand[k][2]).toFixed(1);
    const e = mk('path', { d: d + 'Z', fill: 'rgba(160,90,180,0.25)' }, g);
    
    
  }
  p4AdiabaticBoxes.forEach(b => {
    const e = mk('rect', { x: xs(b[0]), y: ys(b[2]), width: xs(b[1]) - xs(b[0]), height: ys(b[3]) - ys(b[2]), fill: 'rgba(160,90,180,0.2)' }, g);
    
    
  });
  const lo = mk('path', { d: linePath(p4Phy, ys), fill: 'none', stroke: '#ff8c00', 'stroke-width': 7, 'stroke-linejoin': 'round' }, g);
  
  
  const early3 = p4Mwr3c.filter(p => p[0] <= 33), late3 = p4Mwr3c.filter(p => p[0] >= 32);
  const early2 = p4Mwr2c.filter(p => p[0] <= 33), late2 = p4Mwr2c.filter(p => p[0] >= 32);
  const l3a = mk('path', { d: linePath(early3, ys), fill: 'none', stroke: '#add8e6', 'stroke-width': 5 }, g);
  
  
  const l3b = mk('path', { d: linePath(late3, ys), fill: 'none', stroke: 'rgba(150,200,140,0.7)', 'stroke-width': 4 }, g);
  
  
  const l2a = mk('path', { d: linePath(early2, ys), fill: 'none', stroke: '#0000ee', 'stroke-width': 4 }, g);
  
  
  const l2b = mk('path', { d: linePath(late2, ys), fill: 'none', stroke: 'rgba(40,40,220,0.55)', 'stroke-width': 4 }, g);
  
  
  const la = mk('path', { d: linePath(p4Adiabatic, ys), fill: 'none', stroke: 'rgba(128,0,128,0.85)', 'stroke-width': 5 }, g);
  
  
  p4AdiabaticMarkers.forEach(m => {
    const cx = xs(m[0]), cy = ys(m[1]);
    const e = mk('path', { d: `M${cx - 9},${cy - 9}L${cx + 9},${cy + 9}M${cx - 9},${cy + 9}L${cx + 9},${cy - 9}`, stroke: '#8b1a8b', 'stroke-width': 6 }, g);
    
    
  });
  axes(3, ys, p4Ticks, p4TickLabels, ['log10 Liquid Water Path, log10(g/m', '2', ')'], true);
  legend([{ label: 'MWR 2C LWP', color: '#0000ee', w: 4 }, { label: 'MWR 3C LWP', color: '#add8e6', w: 4 }, { label: 'Phy-Iter LWP', color: '#ff8c00', w: 8 }, { label: 'Adiabatic LWP', color: '#800080', w: 5 }], 2300, 2555, [3733, 3791, 3848, 3905], 'legend-lwp');
}

// ---- Panel 5 ----
{
  const ys = makeY(4, -0.56, 11.5);
  const g = mk('g', { 'clip-path': 'url(#clip4)' });
  
  
  const sets = [[flag0Minutes, 0], [flag3Minutes, 3], [flag4Minutes, 4], [flag5Minutes, 5], [flag6Minutes, 6]];
  sets.forEach(s => {
    s[0].forEach(m => {
      const c = mk('circle', { cx: xs(m), cy: ys(s[1]), r: 4.5, fill: '#ff8c00' }, g);
      
      
    });
  });
  axes(4, ys, p5Ticks, p5Ticks.map(String), 'MWR Phy Iter DQ Flag', true);
}
</script>
</body></html>
